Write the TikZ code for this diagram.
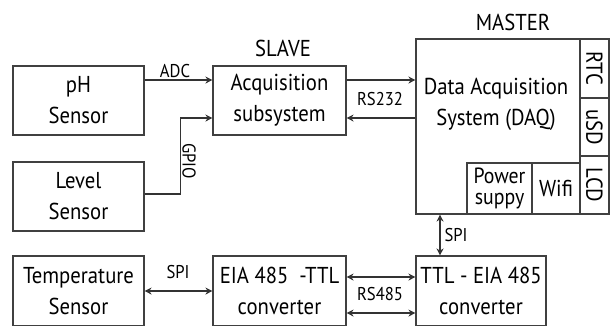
\documentclass[tikz,border=0pt]{standalone}
\usepackage{fontspec}
\setmainfont[FakeStretch=0.9]{PT Sans}
\usetikzlibrary{arrows.meta}
\tikzset{
  box/.style={draw=black!75, line width=1.1pt, align=center, inner sep=0pt,
    font=\fontsize{23}{31}\selectfont},
  txt/.style={align=center, inner sep=0pt, font=\fontsize{23}{31}\selectfont},
  lbl/.style={inner sep=0pt, font=\fontsize{18.5}{20}\selectfont},
  ttl/.style={inner sep=0pt, font=\fontsize{23}{24}\selectfont},
  arr/.style={draw=black!80, line width=1.1pt, -{Stealth[length=7pt,width=7pt]}},
  darr/.style={draw=black!80, line width=1.1pt, {Stealth[length=7pt,width=7pt]}-{Stealth[length=7pt,width=7pt]}}
}
\begin{document}
\begin{tikzpicture}[x=1pt,y=-1pt]
\useasboundingbox (0,0) rectangle (610,325);
\clip (0,0) rectangle (610,325);
% sensors
\node[box, minimum width=131pt, minimum height=69pt] (ph) at (78.5,100.5) {pH\\Sensor};
\node[box, minimum width=131pt, minimum height=69pt] (lev) at (78.5,196.5) {Level\\Sensor};
\node[box, minimum width=131pt, minimum height=70pt] (temp) at (78.5,291) {Temperature\\Sensor};
% slave
\node[box, minimum width=133pt, minimum height=69pt] (acq) at (279.5,100.5) {Acquisition\\subsystem};
\node[ttl] (slave) at (283,48) {SLAVE};
% converters
\node[box, minimum width=133pt, minimum height=70pt] (eia) at (279.5,291) {EIA 485\ \ -TTL\\converter};
\node[box, minimum width=130pt, minimum height=70pt] (ttlc) at (481,291) {TTL - EIA 485\\converter};
% master
\node[box, minimum width=193pt, minimum height=175pt] (daq) at (512.5,126.5) {};
\node[txt] (daqtxt) at (496,104) {Data Acquisition\\System (DAQ)};
\node[ttl] (master) at (513,22) {MASTER};
\node[box, rotate=-90, minimum width=59pt, minimum height=29pt] (rtc) at (594.5,68.5) {RTC};
\node[box, rotate=-90, minimum width=58pt, minimum height=29pt] (usd) at (594.5,127) {uSD};
\node[box, rotate=-90, minimum width=58pt, minimum height=29pt] (lcd) at (594.5,185) {LCD};
\node[box, minimum width=65pt, minimum height=51pt, font=\fontsize{22}{21}\selectfont] (pow) at (499.5,188.5) {Power\\suppy};
\node[box, minimum width=48pt, minimum height=51pt] (wifi) at (556,188.5) {Wifi};
% connectors
\draw[arr] ([yshift=20.5pt]ph.east) -- ([yshift=20.5pt]acq.west);
\node[lbl] (adc) at (175,71) {ADC};
\draw[arr] ([yshift=2.5pt]lev.east) -- ++(36,0) |- ([yshift=-17.5pt]acq.west);
\node[lbl, rotate=-90] (gpio) at (189,161) {GPIO};
\draw[arr] ([yshift=20.5pt]acq.east) -- ([yshift=46.5pt]daq.west);
\draw[arr] ([yshift=8.5pt]daq.west) -- ([yshift=-17.5pt]acq.east);
\node[lbl] (rs232) at (380,99) {RS232};
\draw[darr] ([xshift=-72.5pt]daq.south) -- ([xshift=-41pt]ttlc.north);
\node[lbl] (spi1) at (456,235) {SPI};
\draw[darr] (temp.east) -- (eia.west);
\node[lbl] (spi2) at (178,272) {SPI};
\draw[darr] ([yshift=14pt]eia.east) -- ([yshift=14pt]ttlc.west);
\draw[darr] ([yshift=-22pt]eia.east) -- ([yshift=-22pt]ttlc.west);
\node[lbl] (rs485) at (380,294) {RS485};
\end{tikzpicture}
\end{document}
